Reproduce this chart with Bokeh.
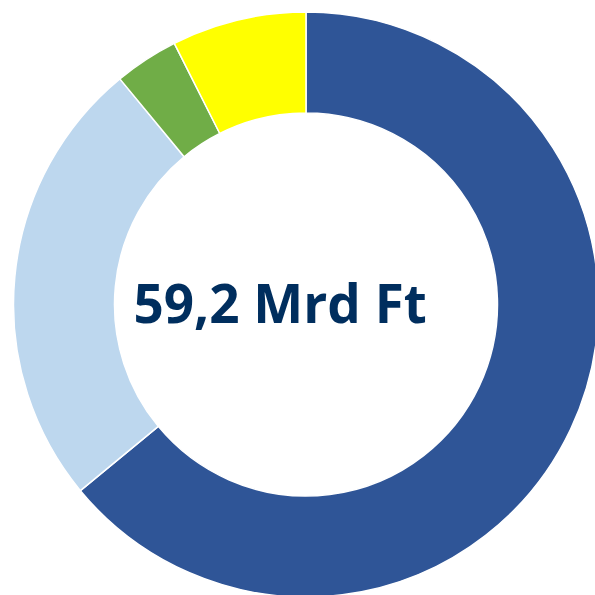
import numpy as np
from bokeh.plotting import figure
from bokeh.models import Range1d, ColumnDataSource
from bokeh.core.properties import value
from bokeh.embed import file_html
from bokeh.resources import INLINE

# Segments of the total (Mrd Ft), clockwise from 12 o'clock
categories = ["A", "B", "C", "D"]
amounts = [37.9, 14.8, 2.1, 4.4]
colors = ["#2F5597", "#BDD7EE", "#70AD47", "#FFFF00"]
unit = "Mrd Ft"

total = sum(amounts)
center_label = f"{total:.1f}".replace(".", ",") + " " + unit

vals = np.array(amounts, dtype=float)
frac = vals / vals.sum() * 2 * np.pi
cum = np.concatenate([[0.0], np.cumsum(frac)])
start = np.pi / 2 - cum[:-1]
end = np.pi / 2 - cum[1:]

src = ColumnDataSource(dict(cat=categories, start=start, end=end, color=colors))

W = H = 595
p = figure(width=W, height=H, output_backend="svg", toolbar_location=None,
           x_range=Range1d(0, W), y_range=Range1d(0, H), min_border=0)
p.axis.visible = False
p.grid.visible = False
p.outline_line_color = None
p.background_fill_color = "white"
p.border_fill_color = "white"

cx, cy = 305.5, H - 304
p.annular_wedge(x=cx, y=cy, inner_radius=191.5, outer_radius=292.5,
                start_angle="start", end_angle="end", direction="clock",
                fill_color="color", line_color="white", line_width=1.5,
                source=src)

p.text(x=[133], y=[H - 302], text=[center_label], text_align="left",
       text_baseline="middle", text_font=value("Open Sans"),
       text_font_style="bold", text_font_size="53px", text_color="#002E5E")

open("out.html", "w").write(file_html(p, INLINE))
